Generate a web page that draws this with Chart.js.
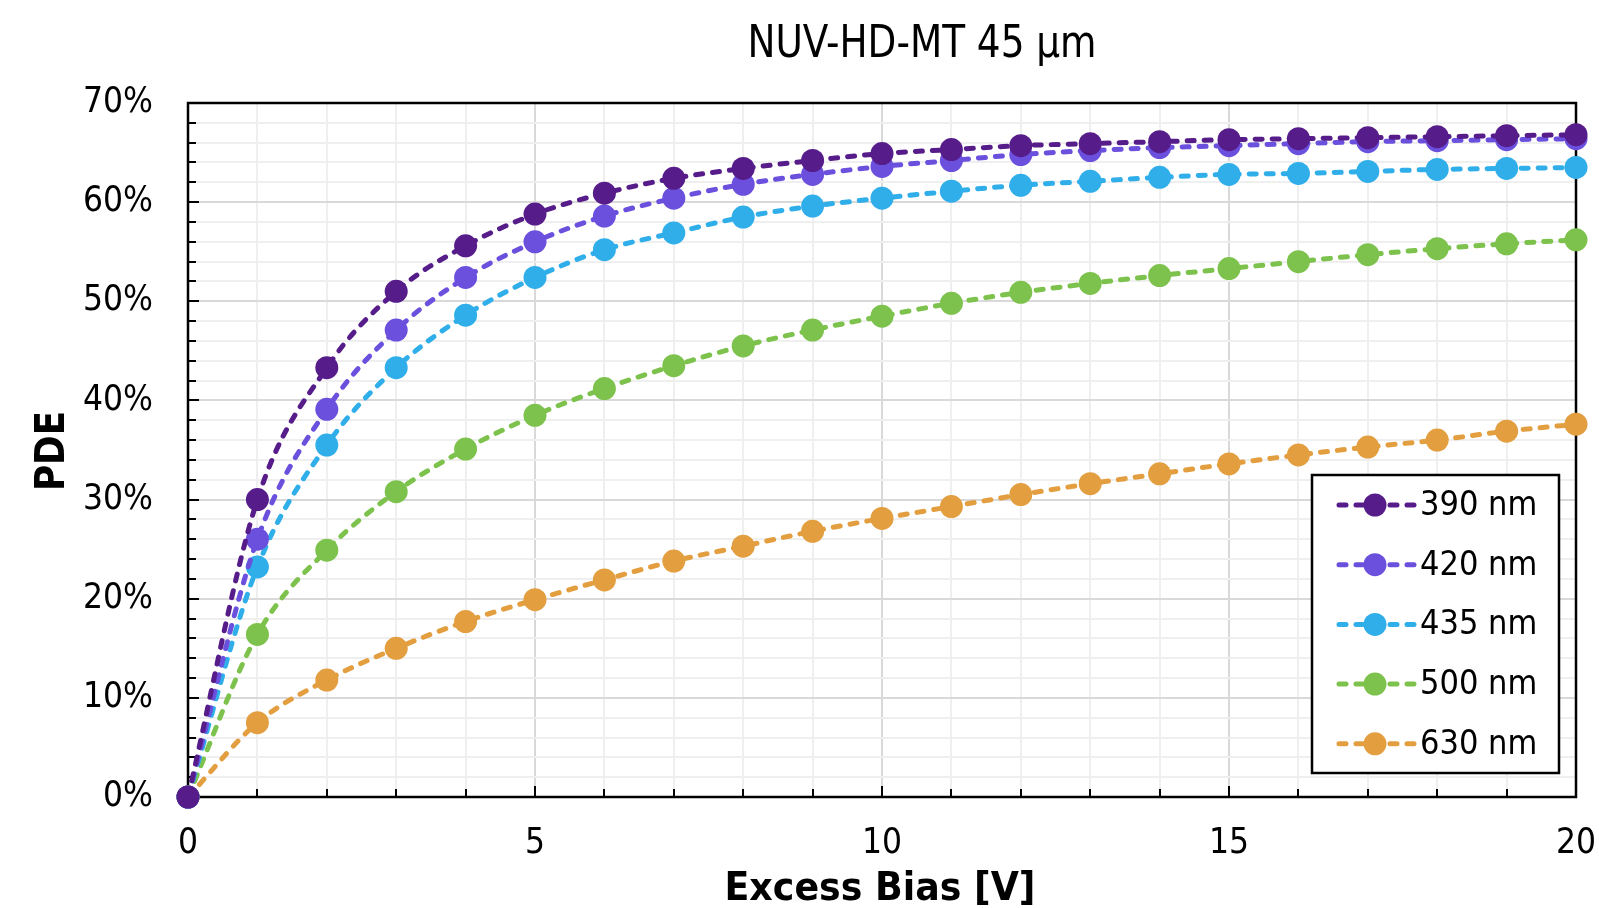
<!DOCTYPE html>
<html>
<head>
<meta charset="utf-8">
<script src="https://cdn.jsdelivr.net/npm/chart.js@4.4.1/dist/chart.umd.min.js"></script>
<style>
  html, body { margin: 0; padding: 0; background: #fff; }
  #wrap { width: 1599px; height: 908px; }
</style>
</head>
<body>
<div id="wrap"><canvas id="pdeChart" width="1599" height="908"></canvas></div>
<script>
// Excess bias [V] and PDE [%]
const biasV = [0, 1, 2, 3, 4, 5, 6, 7, 8, 9, 10, 11, 12, 13, 14, 15, 16, 17, 18, 19, 20];
const pde390 = [0, 30.0, 43.3, 51.0, 55.6, 58.8, 60.9, 62.4, 63.4, 64.2, 64.9, 65.3, 65.7, 65.9, 66.1, 66.3, 66.4, 66.5, 66.6, 66.7, 66.8];
const pde420 = [0, 26.0, 39.1, 47.1, 52.4, 56.0, 58.6, 60.4, 61.8, 62.8, 63.6, 64.2, 64.8, 65.2, 65.5, 65.7, 65.9, 66.1, 66.2, 66.3, 66.4];
const pde435 = [0, 23.2, 35.5, 43.3, 48.6, 52.4, 55.2, 56.9, 58.5, 59.6, 60.4, 61.1, 61.7, 62.1, 62.5, 62.8, 62.9, 63.1, 63.3, 63.4, 63.5];
const pde500 = [0, 16.4, 24.9, 30.8, 35.1, 38.5, 41.2, 43.5, 45.5, 47.1, 48.5, 49.8, 50.9, 51.8, 52.6, 53.3, 54.0, 54.7, 55.3, 55.8, 56.2];
const pde630 = [0, 7.5, 11.8, 15.0, 17.7, 19.9, 21.9, 23.8, 25.3, 26.8, 28.1, 29.3, 30.5, 31.6, 32.6, 33.6, 34.5, 35.3, 36.0, 36.9, 37.6];

const seriesLabels = ['390 nm', '420 nm', '435 nm', '500 nm', '630 nm'];
const seriesColors = ['#561c89', '#6b4fdd', '#2faeea', '#7cc24c', '#e39e3f'];
const chartTitle = 'NUV-HD-MT 45 µm';
const xTitle = 'Excess Bias [V]';
const yTitle = 'PDE';

const condensed = '"DejaVu Sans Condensed", "DejaVu Sans", sans-serif';
const dash = [7, 10];

function makeSet(label, values, color) {
    return {
        label: label,
        data: values.map((v, i) => ({ x: biasV[i], y: v })),
        borderColor: color,
        backgroundColor: color,
        borderWidth: 5,
        borderDash: dash,
        borderCapStyle: 'round',
        cubicInterpolationMode: 'monotone',
        pointRadius: 11.5,
        pointHoverRadius: 11.5,
        pointBorderWidth: 0,
        clip: false
    };
}

// draws text squeezed to a given width (the source fonts are narrow)
function fitText(ctx, text, font, x, y, width, angle) {
    ctx.save();
    ctx.font = font;
    const w = ctx.measureText(text).width;
    ctx.translate(x, y);
    if (angle) ctx.rotate(angle);
    ctx.scale(width / w, 1);
    ctx.fillStyle = '#000';
    ctx.textAlign = 'center';
    ctx.textBaseline = 'alphabetic';
    ctx.fillText(text, 0, 0);
    ctx.restore();
}

// frame, inward ticks, titles and boxed legend
const decor = {
    id: 'decor',
    beforeDatasetsDraw(chart) {
        const { ctx, chartArea: a, scales } = chart;
        ctx.save();
        ctx.strokeStyle = '#000';
        ctx.lineWidth = 2;
        scales.y.ticks.forEach(t => {
            const y = Math.round(scales.y.getPixelForValue(t.value));
            const len = t.value % 10 === 0 ? 11 : 8;
            ctx.beginPath(); ctx.moveTo(a.left, y); ctx.lineTo(a.left + len, y); ctx.stroke();
        });
        scales.x.ticks.forEach(t => {
            const x = Math.round(scales.x.getPixelForValue(t.value));
            const len = t.value % 5 === 0 ? 11 : 8;
            ctx.beginPath(); ctx.moveTo(x, a.bottom); ctx.lineTo(x, a.bottom - len); ctx.stroke();
        });
        ctx.lineWidth = 2.5;
        ctx.strokeRect(a.left, a.top, a.right - a.left, a.bottom - a.top);
        ctx.restore();
    },
    afterDraw(chart) {
        const { ctx } = chart;
        fitText(ctx, chartTitle, '44px ' + condensed, 922, 57, 349);
        fitText(ctx, xTitle, 'bold 39px ' + condensed, 880, 900, 311);
        fitText(ctx, yTitle, 'bold 40px ' + condensed, 64, 451, 80, -Math.PI / 2);

        // legend
        ctx.save();
        const bx = 1312, by = 475, bw = 247, bh = 298, rowH = 59.7;
        ctx.fillStyle = '#fff';
        ctx.fillRect(bx, by, bw, bh);
        ctx.strokeStyle = '#000';
        ctx.lineWidth = 2.5;
        ctx.strokeRect(bx, by, bw, bh);
        chart.data.datasets.forEach((ds, i) => {
            const cy = by + 30 + i * rowH;
            ctx.strokeStyle = ds.borderColor;
            ctx.lineWidth = 5;
            ctx.lineCap = 'round';
            ctx.setLineDash(dash);
            ctx.lineDashOffset = -2;
            ctx.beginPath(); ctx.moveTo(1337, cy); ctx.lineTo(1414, cy); ctx.stroke();
            ctx.setLineDash([]);
            ctx.fillStyle = ds.backgroundColor;
            ctx.beginPath(); ctx.arc(1375, cy, 11.5, 0, Math.PI * 2); ctx.fill();
            ctx.fillStyle = '#000';
            ctx.font = '34px ' + condensed;
            ctx.textAlign = 'left';
            ctx.textBaseline = 'middle';
            ctx.fillText(ds.label, 1420, cy + 1);
        });
        ctx.restore();
    }
};

new Chart(document.getElementById('pdeChart').getContext('2d'), {
    type: 'line',
    data: {
        datasets: [
            makeSet(seriesLabels[0], pde390, seriesColors[0]),
            makeSet(seriesLabels[1], pde420, seriesColors[1]),
            makeSet(seriesLabels[2], pde435, seriesColors[2]),
            makeSet(seriesLabels[3], pde500, seriesColors[3]),
            makeSet(seriesLabels[4], pde630, seriesColors[4])
        ]
    },
    options: {
        responsive: false,
        animation: false,
        layout: { padding: { top: 103, right: 23, left: 0, bottom: 0 } },
        plugins: { legend: { display: false }, title: { display: false }, tooltip: { enabled: false } },
        scales: {
            x: {
                type: 'linear',
                min: 0, max: 20,
                afterFit(scale) {
                    scale.height = 111;
                    scale.paddingLeft = 0;
                    scale.paddingRight = 0;
                },
                grid: {
                    drawTicks: false,
                    lineWidth: 2,
                    color: c => (c.tick && c.tick.value % 5 === 0) ? '#d9d9d9' : '#efefef'
                },
                border: { display: false },
                ticks: {
                    stepSize: 1,
                    autoSkip: false,
                    maxRotation: 0,
                    padding: 26,
                    color: '#000',
                    font: { family: condensed, size: 35 },
                    callback: v => v % 5 === 0 ? v : ''
                }
            },
            y: {
                min: 0, max: 70,
                afterFit(scale) { scale.width = 188; },
                grid: {
                    drawTicks: false,
                    lineWidth: 2,
                    color: c => (c.tick && c.tick.value % 10 === 0) ? '#d9d9d9' : '#efefef'
                },
                border: { display: false },
                ticks: {
                    stepSize: 2,
                    autoSkip: false,
                    padding: 35,
                    color: '#000',
                    font: { family: condensed, size: 35 },
                    callback: v => v % 10 === 0 ? v + '%' : ''
                }
            }
        }
    },
    plugins: [decor]
});
</script>
</body>
</html>
